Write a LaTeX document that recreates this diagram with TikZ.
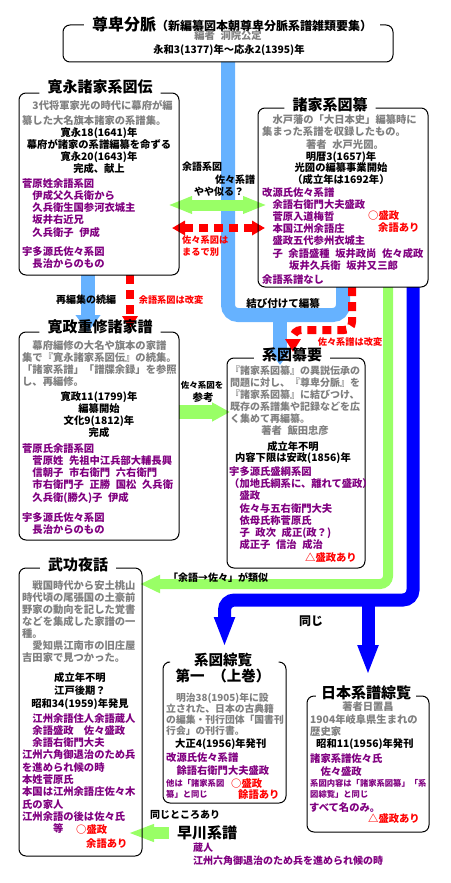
\documentclass[tikz,border=0pt]{standalone}
\usepackage{fontspec}
\setmainfont{Noto Sans CJK JP}[WordSpace=2.4]
\usepackage{xcolor}
\usepackage{tikz}
\usetikzlibrary{positioning, arrows.meta, calc}

\definecolor{skyblue}{RGB}{102,178,255}
\definecolor{leafgreen}{RGB}{153,255,102}
\definecolor{notegray}{RGB}{128,128,128}
\definecolor{lineagepurple}{RGB}{128,0,128}
\newcommand{\bodysize}{\fontsize{10.3}{12.3}\selectfont}
\newcommand{\smallsize}{\fontsize{8.3}{11}\selectfont}

\begin{document}
\begin{tikzpicture}[x=1pt, y=-1pt,
      frame/.style={draw, line width=1pt, rounded corners=7pt},
      area/.style={inner sep=0pt, outer sep=0pt},
      ttl/.style={font=\fontsize{15}{17}\selectfont\bfseries, inner xsep=8pt, inner ysep=1pt},
      note/.style={text=notegray, font=\bodysize\bfseries, align=left, anchor=north west, inner sep=0pt},
      fact/.style={font=\bodysize\bfseries, align=center, anchor=north, inner sep=0pt},
      line/.style={text=lineagepurple, font=\bodysize\bfseries, align=left, anchor=north west, inner sep=0pt},
      hit/.style={text=red, font=\bodysize\bfseries, align=left, anchor=north west, inner sep=0pt},
      tag/.style={font=\fontsize{10}{12}\selectfont\bfseries, inner sep=0pt},
      redtag/.style={tag, text=red, font=\fontsize{9.2}{12}\selectfont\bfseries},
      bluebar/.style={draw=skyblue, line width=14pt, rounded corners=10pt},
      bluearr/.style={bluebar, -{Triangle[length=17pt, width=24pt]}},
      navyarr/.style={draw=blue, line width=13pt, rounded corners=10pt, -{Triangle[length=30pt, width=19pt]}},
      greenarr/.style={draw=leafgreen, line width=10pt, rounded corners=8pt, -{Triangle[length=20pt, width=17pt]}},
      redarr/.style={draw=red, line width=8pt, dash pattern=on 9pt off 6pt, rounded corners=8pt, -{Triangle[length=13pt, width=15pt]}},
    ]
    \useasboundingbox (0,0) rectangle (450,883);

    % ── box areas ──
    \node[area, minimum width=330pt, minimum height=37pt] (sonpi) at (228,43.5) {};
    \node[area, minimum width=160pt, minimum height=182pt] (kanei) at (99,184) {};
    \node[area, minimum width=170pt, minimum height=179pt] (shoka) at (343,197.5) {};
    \node[area, minimum width=160pt, minimum height=208pt] (kansei) at (99,436) {};
    \node[area, minimum width=138pt, minimum height=210pt] (keizu) at (296,463) {};
    \node[area, minimum width=123pt, minimum height=288pt] (buko) at (80.5,712) {};
    \node[area, minimum width=123pt, minimum height=141pt] (soran) at (224.5,732.5) {};
    \node[area, minimum width=122pt, minimum height=136pt] (nihon) at (368,764) {};
    \node[ttl] (haya) at (207,833) {早川系譜};

    % ── arrows ──
    \coordinate (blj) at (280,315);
    \draw[bluebar] (sonpi.south) |- (blj) -| (shoka.south);
    \draw[bluearr, shorten >=-7pt] (blj) -- (blj |- keizu.north);
    \draw[bluearr] ([xshift=-11pt]kanei.south) -- ([xshift=-11pt]kansei.north);
    \draw[redarr, shorten >=3pt] ([xshift=31pt]kanei.south) -- ([xshift=31pt]kansei.north);

    \coordinate (rdj) at (293,330);
    \draw[redarr, shorten >=6pt] ([xshift=9pt]shoka.south) |- (rdj) -- (rdj |- keizu.north);

    \draw[greenarr, shorten >=-2pt] ([xshift=45pt]shoka.south) |- ([yshift=-16pt]buko.north east);

    \coordinate (nvj) at (368,600);
    \draw[navyarr, shorten >=15pt] ([xshift=70pt]shoka.south) |- (nvj) -| (soran.north);
    \draw[navyarr, shorten >=21pt] (nvj) -- (nihon.north);

    % similar / different
    \draw[greenarr, line width=11pt, {Triangle[length=24pt, width=16pt]}-{Triangle[length=24pt, width=16pt]},
          shorten <=-11pt, shorten >=-9pt]
          ([yshift=-21pt]kanei.east) -- ([yshift=-21pt]kanei.east -| shoka.west);
    \draw[redarr, {Triangle[length=13pt, width=14pt]}-{Triangle[length=13pt, width=14pt]},
          shorten <=-7pt, shorten >=-7pt]
          ([yshift=-44pt]kanei.east) -- ([yshift=-44pt]kanei.east -| shoka.west);

    \draw[greenarr, line width=14pt, -{Triangle[length=18pt, width=18pt]}, shorten >=-3pt]
          ([yshift=24pt]kansei.east) -- ([yshift=24pt]kansei.east -| keizu.west);
    \draw[greenarr, line width=12pt, -{Triangle[length=26pt, width=16pt]}, shorten >=-14pt]
          (haya.west) -- (haya.west -| buko.east);

    % ── titles ──
    \node[ttl] (sonpi-t) at (232,24) {{\fontsize{16}{18}\selectfont 尊卑分脈}{\fontsize{12}{14}\selectfont （新編纂図本朝尊卑分脈系譜雑類要集）}};
    \node[ttl] (kanei-t) at (100,87) {寛永諸家系図伝};
    \node[ttl] (shoka-t) at (330,105) {諸家系図纂};
    \node[ttl] (kansei-t) at (100,327) {寛政重修諸家譜};
    \node[ttl] (keizu-t) at (292,355) {系図纂要};
    \node[ttl] (buko-t) at (78,565) {武功夜話};
    \node[ttl, align=center, font=\fontsize{14.5}{16}\selectfont\bfseries] (soran-t) at (223,668) {系図綜覧\\第一 （上巻）};
    \node[ttl, inner xsep=5pt] (nihon-t) at (366,693) {日本系譜綜覧};

    % ── frames ──
    \draw[frame] (sonpi-t.east |- sonpi.north) -| (sonpi.south east) -| (sonpi.north west) -- (sonpi-t.west |- sonpi.north);
    \draw[frame] (kanei-t.east |- kanei.north) -| (kanei.south east) -| (kanei.north west) -- (kanei-t.west |- kanei.north);
    \draw[frame] (shoka-t.east |- shoka.north) -| (shoka.south east) -| (shoka.north west) -- (shoka-t.west |- shoka.north);
    \draw[frame] (kansei-t.east |- kansei.north) -| (kansei.south east) -| (kansei.north west) -- (kansei-t.west |- kansei.north);
    \draw[frame] (keizu-t.east |- keizu.north) -| (keizu.south east) -| (keizu.north west) -- (keizu-t.west |- keizu.north);
    \draw[frame] (buko-t.east |- buko.north) -| (buko.south east) -| (buko.north west) -- (buko-t.west |- buko.north);
    \draw[frame] (soran-t.east |- soran.north) -| (soran.south east) -| (soran.north west) -- (soran-t.west |- soran.north);
    \draw[frame] (nihon-t.east |- nihon.north) -| (nihon.south east) -| (nihon.north west) -- (nihon-t.west |- nihon.north);

    % ── 尊卑分脈 ──
    \node[tag, text=notegray, font=\bodysize\bfseries] (sonpi-a) at (228,36) {編者 洞院公定};
    \node[tag, font=\bodysize\bfseries] (sonpi-b) at (229,50) {永和3(1377)年〜応永2(1395)年};

    % ── 寛永諸家系図伝 ──
    \node[note] (kanei-a) at (22,100) {　3代将軍家光の時代に幕府が編\\[2.5pt]纂した大名旗本諸家の系譜集。};
    \node[fact] (kanei-b) at (99,127) {寛永18(1641)年\\幕府が諸家の系譜編纂を命ずる\\寛永20(1643)年\\完成、献上};
    \node[line] (kanei-c) at (22,178) {菅原姓余語系図\\　伊成父久兵衛から\\　久兵衛生国参河衣城主\\　坂井右近兄\\　久兵衛子 伊成\\[7pt]宇多源氏佐々系図\\　長治からのもの};

    % ── 諸家系図纂 ──
    \node[note] (shoka-a) at (262,114) {　水戸藩の「大日本史」編纂時に\\集まった系譜を収録したもの。};
    \node[tag, text=notegray, font=\bodysize\bfseries] (shoka-b) at (345,145) {著者 水戸光圀。};
    \node[fact, font=\fontsize{10.3}{11.5}\selectfont\bfseries] (shoka-c) at (341,151) {明暦3(1657)年\\光圀の編纂事業開始\\（成立年は1692年）};
    \node[line, font=\fontsize{10.3}{12.2}\selectfont\bfseries] (shoka-d) at (262,187) {改源氏佐々系譜\\　余語右衛門大夫盛政\\　菅原入道梅哲\\　本国江州余語庄\\　盛政五代参州衣城主\\　子 余語盛種 坂井政尚 佐々成政\\\hspace*{27pt}坂井久兵衛 坂井又三郎\\[2pt]余語系譜なし};
    \node[hit] (shoka-e) at (368,210) {○盛政};
    \node[hit] (shoka-f) at (378,223) {余語あり};

    % ── 寛政重修諸家譜 ──
    \node[note] (kansei-a) at (22,340) {　幕府編修の大名や旗本の家譜\\集で『寛永諸家系図伝』の続集。\\「諸家系譜」「譜牒余録」を参照\\し、再編修。};
    \node[fact] (kansei-b) at (99,391) {寛政11(1799)年\\編纂開始\\文化9(1812)年\\完成};
    \node[line] (kansei-c) at (22,443) {菅原氏余語系図\\　菅原姓 先祖中江兵部大輔長興\\　信朝子 市右衛門 六右衛門\\　市右衛門子 正勝 国松 久兵衛\\　久兵衛(勝久)子 伊成\\[8pt]宇多源氏佐々系図\\　長治からのもの};

    % ── 系図纂要 ──
    \node[note, font=\fontsize{10}{11.8}\selectfont\bfseries] (keizu-a) at (230,366) {『諸家系図纂』の異説伝承の\\問題に対し、『尊卑分脈』を\\『諸家系図纂』に結びつけ、\\既存の系譜集や記録などを広\\く集めて再編纂。};
    \node[tag, text=notegray, font=\bodysize\bfseries] (keizu-b) at (295,431) {著者 飯田忠彦};
    \node[fact, font=\fontsize{10.3}{11.5}\selectfont\bfseries] (keizu-c) at (293,441) {成立年不明\\内容下限は安政(1856)年};
    \node[line] (keizu-d) at (229,466) {宇多源氏盛綱系図\\（加地氏綱系に、離れて盛政）\\　盛政\\　佐々与五右衛門大夫\\　依母氏称菅原氏\\　子 政次 成正(政？)\\　成正子 信治 成治};
    \node[hit] (keizu-e) at (305,552) {△盛政あり};

    % ── 武功夜話 ──
    \node[note, font=\fontsize{10.3}{12}\selectfont\bfseries] (buko-a) at (22,580) {　戦国時代から安土桃山\\時代頃の尾張国の土豪前\\野家の動向を記した覚書\\などを集成した家譜の一\\種。\\　愛知県江南市の旧庄屋\\吉田家で見つかった。};
    \node[fact, font=\fontsize{10.3}{13}\selectfont\bfseries] (buko-b) at (80,672) {成立年不明\\江戸後期？\\昭和34(1959)年発見};
    \node[line] (buko-c) at (22,713) {　江州余語住人余語蔵人\\　余語盛政　佐々盛政\\　余語右衛門大夫\\江州六角御退治のため兵\\を進められ候の時\\本姓菅原氏\\本国は江州余語庄佐々木\\氏の家人\\江州余語の後は佐々氏\\　　　等};
    \node[hit] (buko-d) at (76,824) {○盛政};
    \node[hit] (buko-e) at (86,839) {余語あり};

    % ── 系図綜覧 ──
    \node[note, font=\fontsize{9.8}{10.8}\selectfont\bfseries] (soran-a) at (166,693) {　明治38(1905)年に設\\立された、日本の古典籍\\の編集・刊行団体「国書刊\\行会」の刊行書。};
    \node[fact, anchor=north west] (soran-b) at (175,738) {大正4(1956)年発刊};
    \node[line, font=\fontsize{10.3}{13}\selectfont\bfseries] (soran-c) at (166,752) {改源氏佐々系譜\\　餘語右衛門大夫盛政};
    \node[line, font=\smallsize\bfseries] (soran-d) at (166,779) {他は「諸家系図\\纂」と同じ};
    \node[hit] (soran-e) at (231,778) {○盛政};
    \node[hit] (soran-f) at (238,789) {餘語あり};

    % ── 日本系譜綜覧 ──
    \node[tag, text=notegray, font=\bodysize\bfseries] (nihon-a) at (368,707) {著者日置昌};
    \node[note, font=\fontsize{10.3}{12}\selectfont\bfseries] (nihon-b) at (310,714) {1904年岐阜県生まれの\\歴史家};
    \node[fact, anchor=north west] (nihon-c) at (316,738) {昭和11(1956)年発刊};
    \node[line, font=\fontsize{10.3}{13}\selectfont\bfseries] (nihon-d) at (310,753) {諸家系譜佐々氏\\　佐々盛政};
    \node[line, font=\smallsize\bfseries] (nihon-e) at (310,779) {系図内容は「諸家系図纂」「系\\図綜覧」と同じ};
    \node[line] (nihon-f) at (309,802) {すべて名のみ。};
    \node[hit] (nihon-g) at (368,813) {△盛政あり};

    % ── 早川系譜 ──
    \node[tag] (haya-a) at (185,815) {同じところあり};
    \node[line, font=\fontsize{10}{12.5}\selectfont\bfseries] (haya-b) at (193,843) {蔵人\\江州六角御退治のため兵を進められ候の時};

    % arrow labels
    \node[tag] (lbl-renew) at (86,300) {再編集の続編};
    \node[redtag] (lbl-yogo) at (171,300) {余語系図は改変};
    \node[tag] (lbl-sim1) at (202,167) {余語系図};
    \node[tag] (lbl-sim2) at (235,180) {佐々系譜};
    \node[tag] (lbl-sim3) at (219,192) {やや似る？};
    \node[redtag, align=left, anchor=north west] (lbl-diff) at (182,235) {佐々系図は\\まるで別};
    \node[tag, font=\fontsize{10.5}{12}\selectfont\bfseries] (lbl-join) at (283,303) {結び付けて編纂};
    \node[redtag] (lbl-sasa) at (350,342) {佐々系譜は改変};
    \node[tag, font=\fontsize{8.5}{10}\selectfont\bfseries] (lbl-ref1) at (202,385) {佐々系図を};
    \node[tag, font=\fontsize{10.5}{12}\selectfont\bfseries] (lbl-ref2) at (203,398) {参考};
    \node[tag] (lbl-alike) at (218,578) {「余語→佐々」が類似};
    \node[tag, font=\fontsize{12}{14}\selectfont\bfseries] (lbl-same) at (311,621) {同じ};
  \end{tikzpicture}
\end{document}
